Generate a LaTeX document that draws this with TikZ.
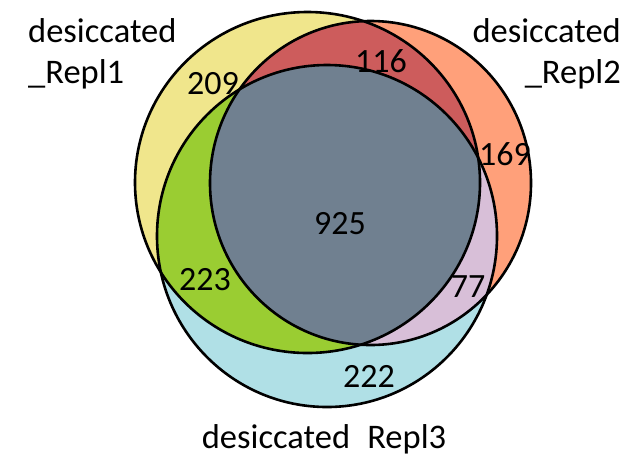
\documentclass[tikz,border=0pt]{standalone}
\usepackage{fontspec}
\setmainfont{Carlito}
\begin{document}
\begin{tikzpicture}[x=1pt,y=-1pt]
\tikzset{count/.style={inner sep=0pt,font=\fontsize{34}{40}\selectfont}, setname/.style={inner sep=0pt,font=\fontsize{34.5}{41}\selectfont}, rim/.style={draw=black,line width=2.6pt}}
\useasboundingbox (0,0) rectangle (636,459);
\def\repla{(307.5,182.5) ellipse [x radius=172.5pt, y radius=170.5pt]}
\def\replb{(370.5,183) ellipse [x radius=160.5pt, y radius=162pt]}
\def\replc{(327,236) ellipse [x radius=170pt, y radius=171pt]}
\definecolor{onlya}{RGB}{240,230,140}
\definecolor{onlyb}{RGB}{255,160,122}
\definecolor{onlyc}{RGB}{176,224,230}
\definecolor{partab}{RGB}{205,92,92}
\definecolor{partac}{RGB}{154,205,50}
\definecolor{partbc}{RGB}{216,191,216}
\definecolor{partabc}{RGB}{112,128,144}
\fill[onlya] \repla;
\fill[onlyb] \replb;
\fill[onlyc] \replc;
\begin{scope}\clip \repla; \fill[partab] \replb; \end{scope}
\begin{scope}\clip \repla; \fill[partac] \replc; \end{scope}
\begin{scope}\clip \replb; \fill[partbc] \replc; \end{scope}
\begin{scope}\clip \repla; \clip \replb; \fill[partabc] \replc; \end{scope}
\draw[rim] \repla;
\draw[rim] \replb;
\draw[rim] \replc;
\node[count] (a) at (213,84){209};
\node[count] (ab) at (381,61){116};
\node[count] (b) at (505,154){169};
\node[count] (abc) at (340,224){925};
\node[count] (ac) at (205,280){223};
\node[count] (bc) at (468,287){77};
\node[count] (c) at (369,376){222};
\node[setname, anchor=north west, align=left] (la) at (28,18){desiccated\\\_Repl1};
\node[setname, anchor=north east, align=right] (lb) at (621,18){desiccated\\\_Repl2};
\node[setname, anchor=base] (lc) at (324,448){desiccated\phantom{\_}Repl3};
\end{tikzpicture}
\end{document}
